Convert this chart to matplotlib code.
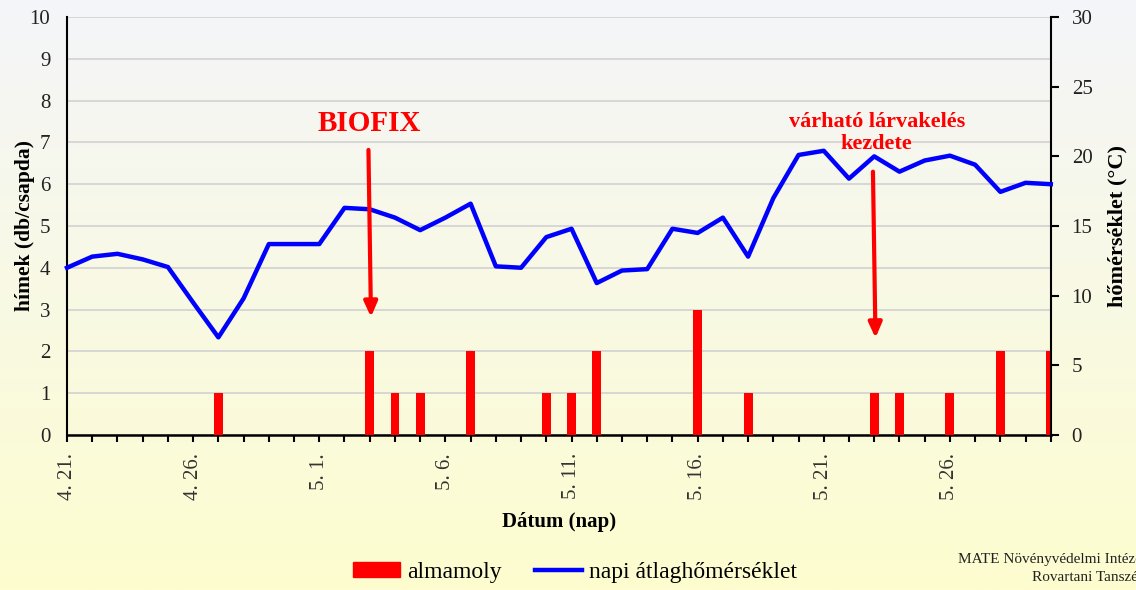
import numpy as np
import matplotlib.pyplot as plt
from matplotlib.colors import LinearSegmentedColormap
from matplotlib.lines import Line2D
from matplotlib.patches import Patch

plt.rcParams['font.family'] = ['Liberation Serif', 'DejaVu Serif']

# days 4.21 .. 5.30
days = ['4. 21.', '4. 22.', '4. 23.', '4. 24.', '4. 25.', '4. 26.', '4. 27.', '4. 28.',
        '4. 29.', '4. 30.', '5. 1.', '5. 2.', '5. 3.', '5. 4.', '5. 5.', '5. 6.',
        '5. 7.', '5. 8.', '5. 9.', '5. 10.', '5. 11.', '5. 12.', '5. 13.', '5. 14.',
        '5. 15.', '5. 16.', '5. 17.', '5. 18.', '5. 19.', '5. 20.', '5. 21.', '5. 22.',
        '5. 23.', '5. 24.', '5. 25.', '5. 26.', '5. 27.', '5. 28.', '5. 29.', '5. 30.']

# moths caught per trap (almamoly)
catches = [0, 0, 0, 0, 0, 0, 1, 0, 0, 0, 0, 0, 2, 1, 1, 0, 2, 0, 0, 1,
           1, 2, 0, 0, 0, 3, 0, 1, 0, 0, 0, 0, 1, 1, 0, 1, 0, 2, 0, 2]

# daily mean temperature (°C)
temps = [12.0, 12.8, 13.0, 12.6, 12.05, 9.5, 7.0, 9.8, 13.7, 13.7,
         13.7, 16.3, 16.2, 15.6, 14.7, 15.6, 16.6, 12.1, 12.0, 14.2,
         14.8, 10.9, 11.8, 11.9, 14.8, 14.5, 15.6, 12.8, 17.0, 20.1,
         20.4, 18.4, 20.0, 18.9, 19.7, 20.05, 19.4, 17.45, 18.1, 18.0]

label_every = 5

x = np.arange(len(days))

fig = plt.figure(figsize=(11.36, 5.9), dpi=100)

# background gradient
bg = fig.add_axes([0, 0, 1, 1], zorder=-10)
cmap = LinearSegmentedColormap.from_list('bg', ['#f4f5f9', '#fdfdcf'])
bg.imshow(np.linspace(0, 1, 256).reshape(-1, 1), aspect='auto', cmap=cmap,
          extent=[0, 1, 0, 1])
bg.axis('off')

ax = fig.add_axes([0.059, 0.263, 0.866, 0.708])
ax.patch.set_alpha(0)
ax.bar(x, catches, width=0.35, color='#ff0000', zorder=3)
ax.set_xlim(0, len(days) - 1)
ax.set_ylim(0, 10)
ax.set_yticks(range(0, 11))
ax.yaxis.grid(True, color='#d4d4d4', linewidth=1.3, zorder=0)
ax.set_axisbelow(True)
ax.tick_params(axis='y', length=0, labelsize=15, labelcolor='#222222', pad=12)
ax.set_xticks(x)
ax.set_xticklabels([d if i % label_every == 0 else '' for i, d in enumerate(days)],
                   rotation=90, fontsize=15, color='#333333')
ax.tick_params(axis='x', length=5, width=1.5, direction='out', pad=8)
ax.spines['top'].set_visible(False)
ax.spines['bottom'].set_linewidth(1.8)
ax.spines['left'].set_linewidth(1.5)
ax.spines['right'].set_visible(False)
ax.set_ylabel('hímek (db/csapda)', fontsize=15.5, fontweight='bold', labelpad=-4)
ax.set_xlabel('Dátum (nap)', fontsize=15, fontweight='bold', labelpad=9)

ax2 = ax.twinx()
ax2.plot(x, temps, color='#0000ff', linewidth=3.2, zorder=4, clip_on=False)
ax2.set_ylim(0, 30)
ax2.set_yticks(range(0, 31, 5))
ax2.tick_params(axis='y', length=6, width=1.5, labelsize=15, labelcolor='#222222', pad=9)
ax2.spines['top'].set_visible(False)
ax2.spines['left'].set_visible(False)
ax2.spines['bottom'].set_visible(False)
ax2.spines['right'].set_linewidth(1.5)
ax2.set_ylabel('hőmérséklet (°C)', fontsize=16, fontweight='bold', labelpad=11)

# annotations (left axis units)
arrow_kw = dict(arrowstyle='-|>,head_width=0.4,head_length=0.9', color='#ff0000',
                lw=3, shrinkA=0, shrinkB=0)
ax2.annotate('', xy=(12.05, 2.82 * 3), xytext=(11.95, 6.82 * 3),
             arrowprops=arrow_kw, zorder=6)
ax2.text(12.0, 7.45 * 3, 'BIOFIX', color='#ff0000', fontsize=21, fontweight='bold',
         ha='center', va='center', zorder=6)
ax2.annotate('', xy=(32.05, 2.32 * 3), xytext=(31.95, 6.3 * 3),
             arrowprops=arrow_kw, zorder=6)
ax2.text(32.1, 7.22 * 3, 'várható lárvakelés\nkezdete', color='#ff0000', fontsize=16,
         fontweight='bold', ha='center', va='center', linespacing=1.15, zorder=6)

handles = [Patch(color='#ff0000', label='almamoly'),
           Line2D([0], [0], color='#0000ff', lw=3.2, label='napi átlaghőmérséklet')]
fig.legend(handles=handles, loc='center', bbox_to_anchor=(575 / 1136, 0.03), ncol=2,
           frameon=False, fontsize=17, handlelength=2.0, handleheight=0.6,
           handletextpad=0.3, columnspacing=1.4)

fig.text(1146 / 1136, 0.037, 'MATE Növényvédelmi Intézet\nRovartani Tanszék',
         ha='right', va='center', fontsize=11, color='#222222', linespacing=1.5,
         multialignment='right')

fig.savefig('out.png', dpi=100)
